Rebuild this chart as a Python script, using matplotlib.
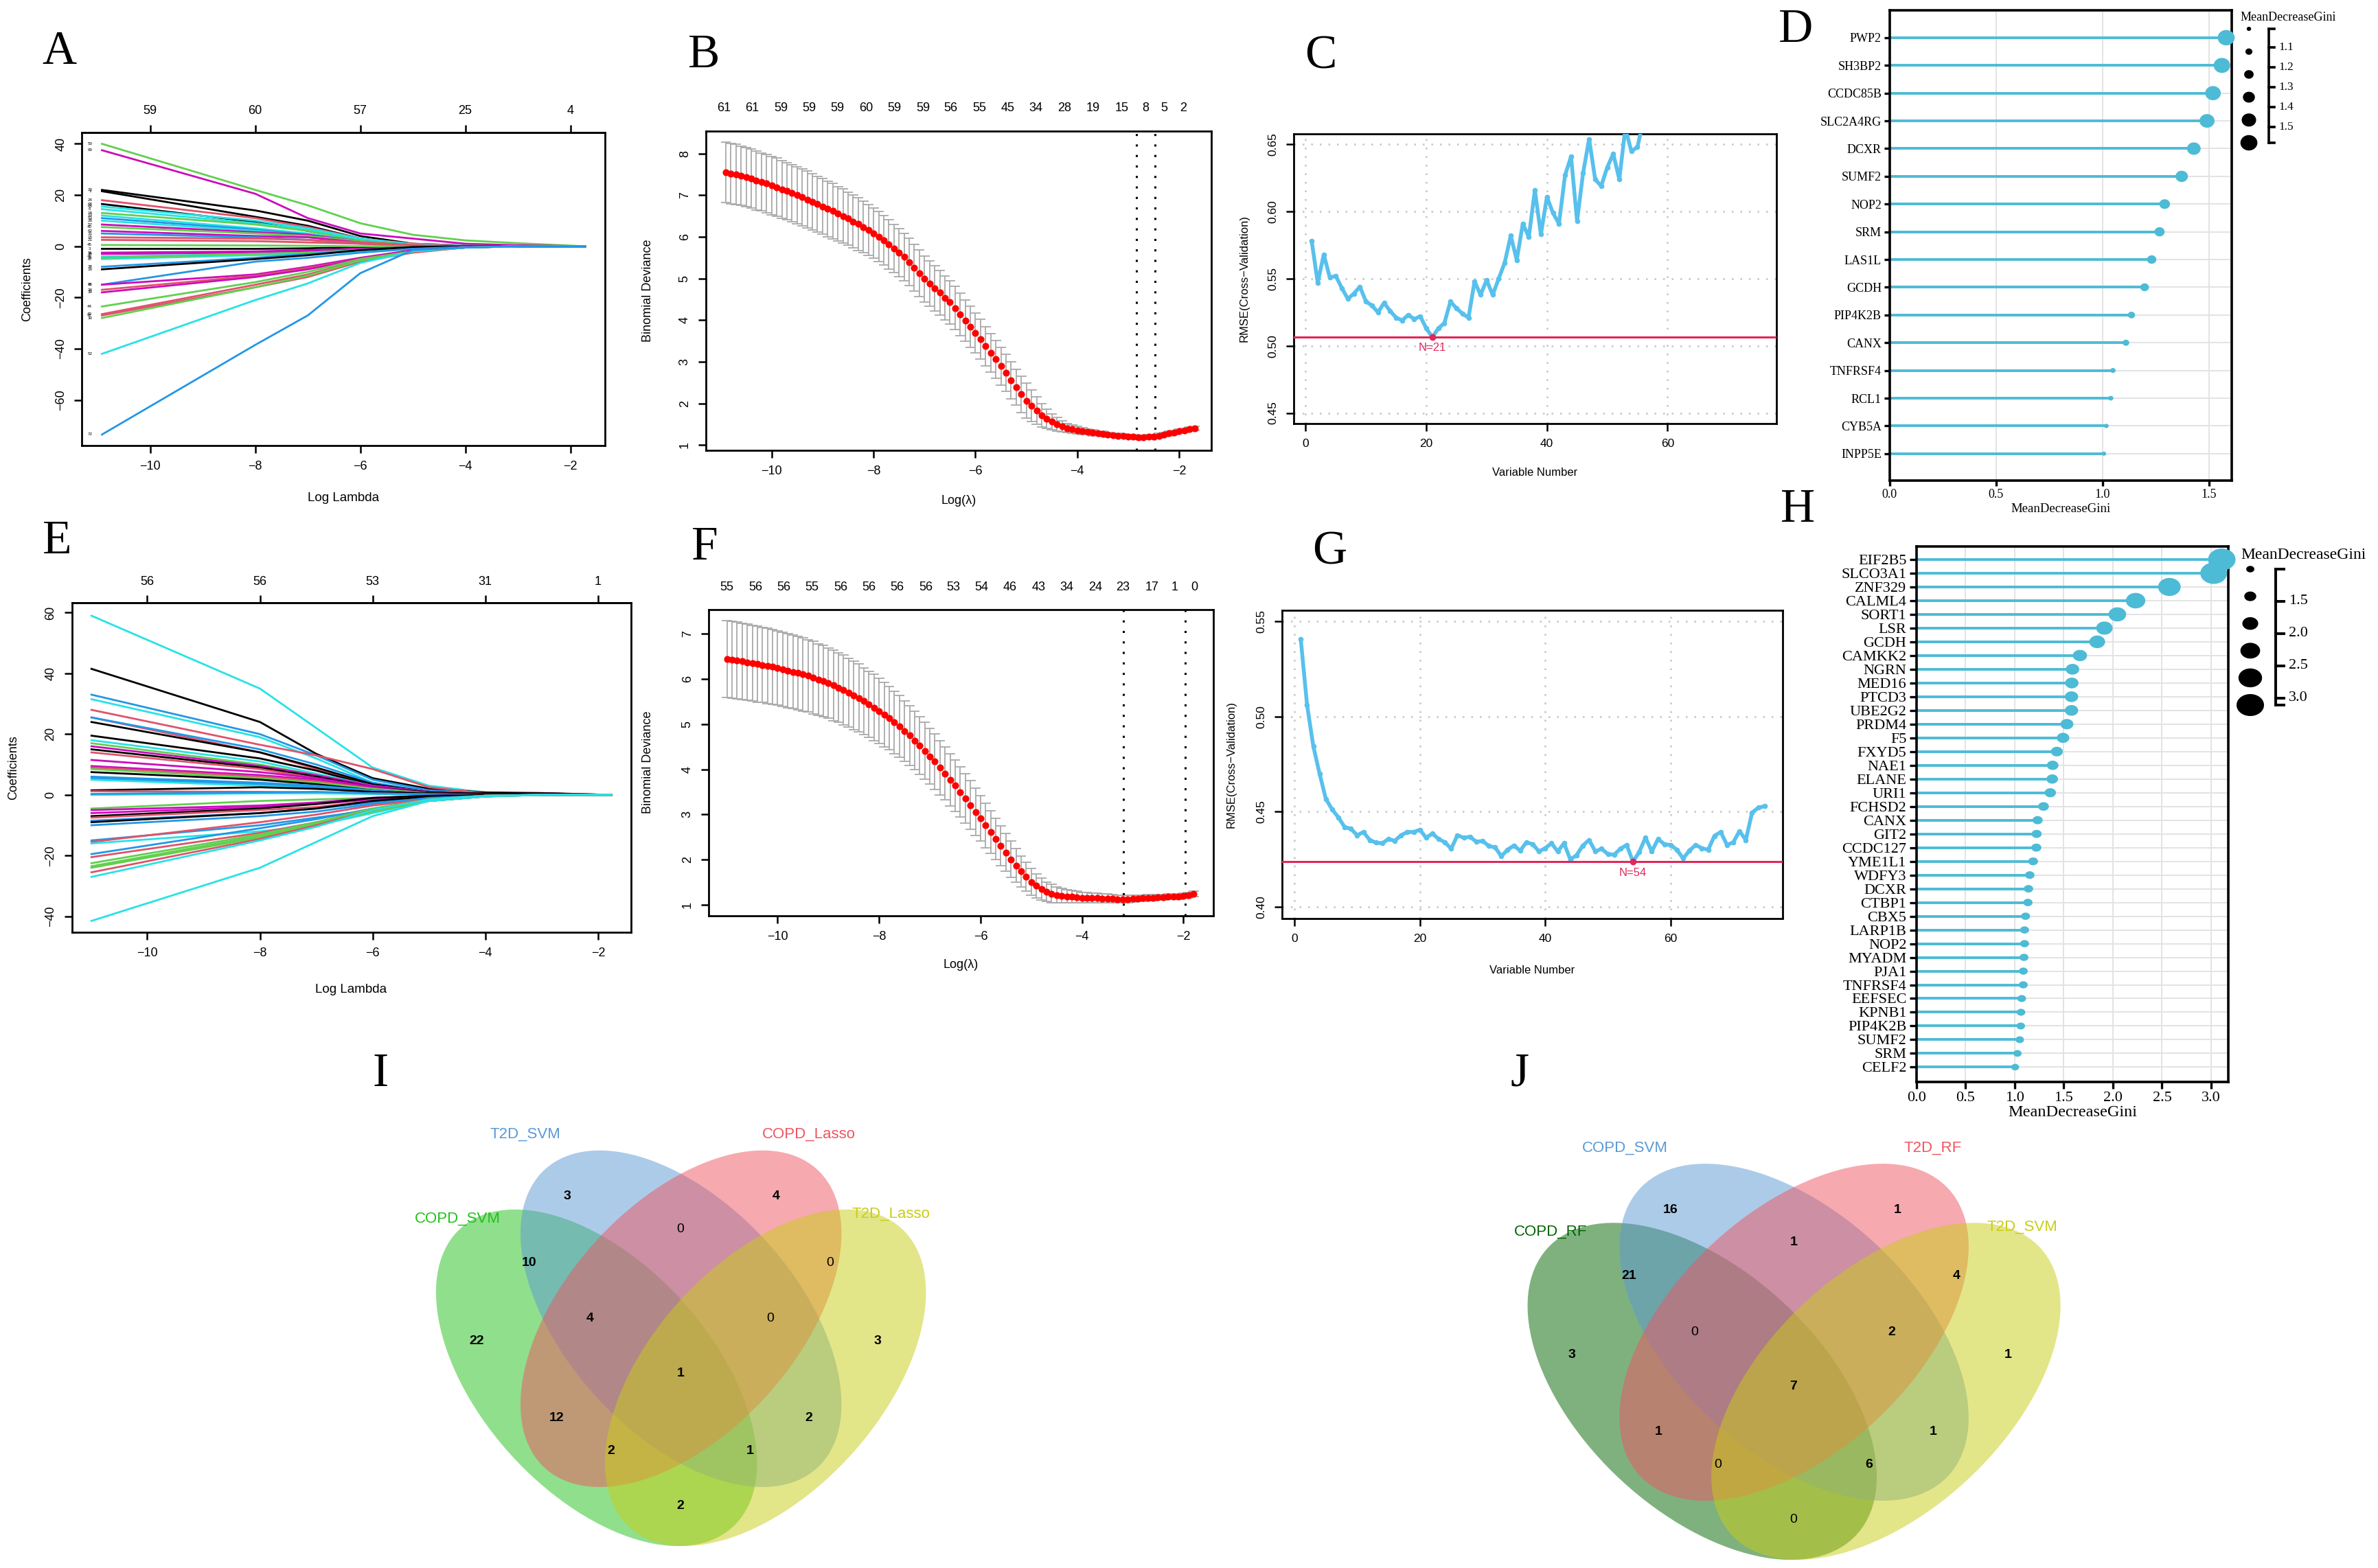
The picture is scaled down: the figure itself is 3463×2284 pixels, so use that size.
import numpy as np
import matplotlib
matplotlib.use("Agg")
import matplotlib.pyplot as plt
from matplotlib.patches import Ellipse
import matplotlib.transforms as mtrans

plt.rcParams['font.family'] = ['Liberation Sans', 'DejaVu Sans']
SERIF = ['Liberation Serif', 'DejaVu Serif']

# ============================ DATA ============================
# ---- Panel A : LASSO coefficient paths (COPD) ----
A_loglambda = [-10.92, -8, -7, -6, -5, -4, -3, -1.72]
A_coef = [
    [40, 22, 16, 9, 4.5, 2.3, 1.2, 0],
    [37.5, 20.5, 11, 5, 3, 1, 0.4, 0],
    [22, 14, 10, 4, 1, 0.3, 0, 0],
    [21.5, 11.5, 8, 3, 0.5, 0, 0, 0],
    [18, 11, 7.5, 3, 1, 0.3, 0, 0],
    [16.5, 9.5, 6, 2.5, 0.5, 0, 0, 0],
    [15.5, 10, 7, 3, 0.8, 0.2, 0, 0],
    [14.5, 9, 6.5, 2.5, 0.5, 0, 0, 0],
    [13, 8.5, 6, 2, 0.5, 0, 0, 0],
    [12, 7, 5, 2, 0.3, 0, 0, 0],
    [11, 6.5, 4.5, 1.5, 0.3, 0, 0, 0],
    [10, 6, 4, 1.5, 0.2, 0, 0, 0],
    [8.5, 5.5, 4.5, 2, 0.5, 0, 0, 0],
    [7.5, 5, 4, 2, 0.5, 0, 0, 0],
    [6, 4, 3.5, 1.5, 0.3, 0, 0, 0],
    [5, 3.5, 2.5, 1, 0.2, 0, 0, 0],
    [3.5, 3, 2.5, 1.5, 0.5, 0, 0, 0],
    [2.5, 2, 1.5, 1, 0.3, 0, 0, 0],
    [-1, -1, -0.8, -0.3, 0, 0, 0, 0],
    [0.5, 0.3, 0.2, 0, 0, 0, 0, 0],
    [-2.5, -2, -1.5, -1, -0.3, 0, 0, 0],
    [-3, -2.5, -2, -1.5, -0.5, 0, 0, 0],
    [-4, -3, -2.5, -1.5, -0.5, 0, 0, 0],
    [-5, -3.5, -3, -2, -0.8, -0.2, 0, 0],
    [-4.5, -3, -2.5, -1.5, -0.5, 0, 0, 0],
    [-8, -4.5, -3, -1.5, -0.5, 0, 0, 0],
    [-9, -5, -3.5, -1.5, -0.3, 0, 0, 0],
    [-15, -6, -4.5, -2.5, -1, -0.2, 0, 0],
    [-15, -11, -8, -4.5, -1.5, -0.3, 0, 0],
    [-17, -11.5, -8.5, -5, -2, -0.5, 0, 0],
    [-18, -12, -9, -5, -2, -0.5, 0, 0],
    [-23.5, -14, -10, -5, -2, -0.5, 0, 0],
    [-26.5, -15, -11, -5.5, -2, -0.5, 0, 0],
    [-27, -16, -12, -6, -2.5, -0.5, 0, 0],
    [-28, -16, -11.5, -5.5, -2, -0.5, 0, 0],
    [-42, -21, -14.5, -6.5, -2, -0.5, 0, 0],
    [-73.5, -38.5, -27, -10.5, -1.5, -0.5, 0, 0],
]
A_col = "gmkkrkccgcbcmgmbrrkgmmccgbkbmrmgrrgcb"
A_ids = ['50', '69', '23', '1', '24', '68', '65', '6', '18', '13', '53', '28', '57',
         '40', '62', '31', '15', '21', '3', '45', '11', '36', '48', '67', '9', '38',
         '16', '66', '8', '34', '39', '44', '42', '47', '30', '52', '72']
A_top_at = [-10, -8, -6, -4, -2]
A_top_lab = ['59', '60', '57', '25', '4']

# ---- Panel E : LASSO coefficient paths (T2D) ----
E_loglambda = [-10.99, -8, -7, -6, -5, -4, -3, -1.77]
E_coef = [
    [59, 35, 22, 9, 3, 0.8, 0.3, 0],
    [41.5, 24, 13.5, 5.5, 2, 0.8, 0.6, 0],
    [33, 20, 13, 5, 1.5, 0.5, 0, 0],
    [31.5, 19, 12, 4, 1, 0.3, 0, 0],
    [28, 16.5, 13, 8.5, 2.5, 0.5, 0, 0],
    [25.5, 14, 8.5, 3, 1, 0.2, 0, 0],
    [25.5, 15, 10, 4, 1, 0.2, 0, 0],
    [24, 14, 9, 3.5, 1, 0.3, 0, 0],
    [19.5, 12, 8, 3, 1, 0.3, 0, 0],
    [18, 11, 7, 3, 1, 0.2, 0, 0],
    [17, 10, 6.5, 2.5, 0.8, 0.2, 0, 0],
    [16, 9.5, 6.5, 3, 1, 0.3, 0.5, 0],
    [15, 9, 6, 2.5, 0.8, 0.2, 0, 0],
    [14, 8.5, 5.5, 2, 0.5, 0, 0, 0],
    [11.5, 7.5, 5.5, 2.5, 0.5, 0, 0, 0],
    [9.5, 6.5, 5, 2, 0.5, 0, 0, 0],
    [9, 6, 4.5, 2, 0.5, 0, 0, 0],
    [8.5, 5.5, 4, 2, 0.5, 0, 0, 0],
    [7.5, 5, 3.5, 1.5, 0.3, 0, 0, 0],
    [6, 4, 3, 1.5, 0.3, 0, 0, 0],
    [5.5, 3.5, 2.5, 1, 0.2, 0, 0, 0],
    [5, 3, 2, 1, 0.2, 0, 0, 0],
    [1.5, 2.5, 2, 1, 0.5, 0.5, 0.5, 0],
    [1.2, 1, 0.8, 0.5, 0.2, 0, 0, 0],
    [0, 0.5, 0.5, 0.3, 0, 0, 0, 0],
    [0.3, 0.8, 1, 0.5, 0.2, 0, 0, 0],
    [-4.5, -2, -1.5, -1, -0.5, 0, 0, 0],
    [-5, -3.5, -2.5, -1, -0.3, 0, 0, 0],
    [-6, -4, -3, -1.5, -0.5, 0, 0, 0],
    [-7, -4.5, -3, -1, -0.3, 0, 0, 0],
    [-7.5, -5, -4, -2, -0.5, 0, 0, 0],
    [-8.5, -6, -4.5, -2.5, -1, -0.3, 0, 0],
    [-9, -6, -4.5, -2, -0.5, 0, 0, 0],
    [-10, -7, -5.5, -3, -1, -0.3, 0, 0],
    [-15, -10, -7.5, -5, -2, -0.5, 0, 0],
    [-15.5, -9, -6.5, -3.5, -1.5, -0.3, 0, 0],
    [-16, -12, -10, -6, -2, -0.5, 0, 0],
    [-19.5, -11, -8, -4.5, -2, -0.5, 0, 0],
    [-20.5, -12.5, -9, -5, -2, -0.5, 0, 0],
    [-22.5, -13, -9, -4.5, -1.5, -0.3, 0, 0],
    [-23.5, -13.5, -9.5, -5, -1.5, -0.3, 0, 0],
    [-24, -14, -10, -5.5, -2, -0.5, 0, 0],
    [-25.5, -14.5, -10, -5, -1.5, -0.3, 0, 0],
    [-27, -15, -10.5, -5, -1.5, -0.3, 0, 0],
    [-41.5, -24, -15.5, -7, -2, -0.5, 0, 0],
]
E_col = "ckbcrrbkkcgmkrmmrgkbbckrcbgmmkrbkbbrcbrgggrcc"
E_top_at = [-10, -8, -6, -4, -2]
E_top_lab = ['56', '56', '53', '31', '1']

# ---- Panel B : cv.glmnet binomial deviance (COPD) ----
B_loglambda = np.round(np.arange(-10.9, -1.65, 0.1), 2)
B_dev = [7.55, 7.52, 7.50, 7.47, 7.43, 7.40, 7.36, 7.32, 7.28, 7.23,
         7.19, 7.14, 7.10, 7.05, 7.00, 6.95, 6.90, 6.84, 6.79, 6.73,
         6.67, 6.62, 6.56, 6.50, 6.44, 6.37, 6.31, 6.24, 6.17, 6.09,
         6.01, 5.92, 5.82, 5.72, 5.62, 5.52, 5.40, 5.26, 5.13, 4.99,
         4.88, 4.77, 4.66, 4.54, 4.43, 4.29, 4.14, 3.99, 3.84, 3.69,
         3.54, 3.38, 3.22, 3.06, 2.90, 2.74, 2.56, 2.39, 2.22, 2.07,
         1.94, 1.83, 1.72, 1.63, 1.56, 1.50, 1.45, 1.41, 1.38, 1.36,
         1.34, 1.32, 1.30, 1.28, 1.27, 1.25, 1.24, 1.23, 1.22, 1.21,
         1.20, 1.19, 1.19, 1.20, 1.21, 1.23, 1.25, 1.28, 1.30, 1.33,
         1.36, 1.38, 1.40]
B_se = [0.72, 0.72, 0.72, 0.71, 0.71, 0.71, 0.71, 0.70, 0.70, 0.70,
        0.70, 0.69, 0.69, 0.69, 0.68, 0.68, 0.68, 0.67, 0.67, 0.67,
        0.66, 0.66, 0.65, 0.65, 0.64, 0.63, 0.63, 0.62, 0.61, 0.60,
        0.60, 0.59, 0.59, 0.58, 0.58, 0.57, 0.57, 0.56, 0.56, 0.55,
        0.55, 0.54, 0.54, 0.53, 0.52, 0.52, 0.51, 0.50, 0.49, 0.48,
        0.48, 0.47, 0.46, 0.46, 0.45, 0.44, 0.44, 0.43, 0.43, 0.42,
        0.38, 0.33, 0.28, 0.23, 0.19, 0.16, 0.13, 0.11, 0.10, 0.09,
        0.08, 0.07, 0.07, 0.06, 0.06, 0.06, 0.05, 0.05, 0.05, 0.05,
        0.05, 0.05, 0.05, 0.05, 0.05, 0.05, 0.05, 0.05, 0.05, 0.05,
        0.05, 0.05, 0.05]
B_lmin, B_l1se = -2.84, -2.47
B_top_at = [-10.94, -10.38, -9.82, -9.26, -8.71, -8.15, -7.59, -7.03, -6.48,
            -5.92, -5.36, -4.81, -4.25, -3.69, -3.13, -2.66, -2.29, -1.92]
B_top_lab = ['61', '61', '59', '59', '59', '60', '59', '59', '56', '55', '45',
             '34', '28', '19', '15', '8', '5', '2']

# ---- Panel F : cv.glmnet binomial deviance (T2D) ----
F_loglambda = np.round(np.arange(-11.0, -1.75, 0.1), 2)
F_dev = [6.44, 6.43, 6.41, 6.39, 6.37, 6.35, 6.33, 6.31, 6.29, 6.27,
         6.25, 6.22, 6.19, 6.16, 6.13, 6.10, 6.07, 6.03, 5.99, 5.95,
         5.91, 5.86, 5.81, 5.76, 5.70, 5.64, 5.58, 5.51, 5.44, 5.37,
         5.29, 5.21, 5.13, 5.04, 4.95, 4.85, 4.75, 4.64, 4.53, 4.41,
         4.29, 4.17, 4.04, 3.91, 3.77, 3.64, 3.50, 3.36, 3.21, 3.06,
         2.91, 2.76, 2.61, 2.46, 2.31, 2.16, 2.01, 1.87, 1.74, 1.62,
         1.51, 1.42, 1.35, 1.29, 1.25, 1.22, 1.20, 1.19, 1.18, 1.17,
         1.16, 1.16, 1.15, 1.15, 1.14, 1.14, 1.14, 1.13, 1.13, 1.13,
         1.14, 1.14, 1.15, 1.16, 1.16, 1.17, 1.17, 1.18, 1.19, 1.19,
         1.20, 1.22, 1.25]
F_se = [0.85, 0.85, 0.85, 0.84, 0.84, 0.84, 0.84, 0.83, 0.83, 0.83,
        0.82, 0.82, 0.82, 0.81, 0.81, 0.81, 0.80, 0.80, 0.79, 0.79,
        0.78, 0.78, 0.77, 0.77, 0.76, 0.76, 0.75, 0.74, 0.73, 0.73,
        0.72, 0.71, 0.70, 0.69, 0.68, 0.67, 0.66, 0.65, 0.64, 0.63,
        0.62, 0.61, 0.60, 0.59, 0.58, 0.57, 0.56, 0.55, 0.54, 0.52,
        0.50, 0.49, 0.47, 0.46, 0.44, 0.42, 0.40, 0.37, 0.34, 0.32,
        0.30, 0.27, 0.24, 0.22, 0.20, 0.18, 0.16, 0.15, 0.14, 0.13,
        0.12, 0.12, 0.11, 0.11, 0.10, 0.10, 0.09, 0.09, 0.08, 0.08,
        0.08, 0.07, 0.07, 0.07, 0.07, 0.06, 0.06, 0.06, 0.06, 0.06,
        0.06, 0.06, 0.06]
F_lmin, F_l1se = -3.18, -1.97
F_top_at = [-11.0, -10.44, -9.88, -9.32, -8.76, -8.20, -7.64, -7.08, -6.53,
            -5.98, -5.42, -4.86, -4.30, -3.74, -3.19, -2.62, -2.17, -1.79]
F_top_lab = ['55', '56', '56', '55', '56', '56', '56', '56', '53', '54', '46',
             '43', '34', '24', '23', '17', '1', '0']

# ---- Panel C : SVM-RFE RMSE (COPD) ----
C_rmse = [0.578, 0.547, 0.568, 0.551, 0.552, 0.543, 0.535, 0.539, 0.544, 0.533,
          0.530, 0.525, 0.532, 0.526, 0.521, 0.519, 0.523, 0.520, 0.522, 0.513,
          0.5065, 0.513, 0.517, 0.533, 0.528, 0.524, 0.521, 0.548, 0.538, 0.549,
          0.538, 0.550, 0.562, 0.582, 0.564, 0.591, 0.581, 0.616, 0.583, 0.611,
          0.599, 0.591, 0.627, 0.641, 0.593, 0.629, 0.654, 0.624, 0.619, 0.633,
          0.643, 0.624, 0.662, 0.645, 0.648, 0.668, 0.680]
C_best = 21

# ---- Panel G : SVM-RFE RMSE (T2D) ----
G_rmse = [0.5406, 0.5062, 0.4844, 0.4700, 0.4567, 0.4512, 0.4470, 0.4419, 0.4410, 0.4376,
          0.4393, 0.4351, 0.4337, 0.4334, 0.4356, 0.4347, 0.4376, 0.4393, 0.4393, 0.4405,
          0.4363, 0.4385, 0.4356, 0.4339, 0.4305, 0.4376, 0.4363, 0.4368, 0.4342, 0.4346,
          0.4320, 0.4312, 0.4266, 0.4300, 0.4322, 0.4295, 0.4339, 0.4329, 0.4291, 0.4308,
          0.4334, 0.4291, 0.4334, 0.4249, 0.4271, 0.4322, 0.4351, 0.4291, 0.4305, 0.4277,
          0.4274, 0.4305, 0.4325, 0.4237, 0.4288, 0.4364, 0.4291, 0.4356, 0.4329, 0.4325,
          0.4300, 0.4254, 0.4295, 0.4325, 0.4308, 0.4300, 0.4373, 0.4393, 0.4325, 0.4339,
          0.4398, 0.4351, 0.4495, 0.4521, 0.4529]
G_best = 54

# ---- Panel D : random forest MeanDecreaseGini (COPD) ----
D_genes = ['PWP2', 'SH3BP2', 'CCDC85B', 'SLC2A4RG', 'DCXR', 'SUMF2', 'NOP2', 'SRM',
           'LAS1L', 'GCDH', 'PIP4K2B', 'CANX', 'TNFRSF4', 'RCL1', 'CYB5A', 'INPP5E']
D_gini = [1.581, 1.561, 1.519, 1.491, 1.429, 1.372, 1.292, 1.268,
          1.231, 1.198, 1.136, 1.110, 1.049, 1.039, 1.018, 1.007]
D_ticks = [0.0, 0.5, 1.0, 1.5]
D_leg_ticks = [1.1, 1.2, 1.3, 1.4, 1.5]

# ---- Panel H : random forest MeanDecreaseGini (T2D) ----
H_genes = ['EIF2B5', 'SLCO3A1', 'ZNF329', 'CALML4', 'SORT1', 'LSR', 'GCDH', 'CAMKK2',
           'NGRN', 'MED16', 'PTCD3', 'UBE2G2', 'PRDM4', 'F5', 'FXYD5', 'NAE1', 'ELANE',
           'URI1', 'FCHSD2', 'CANX', 'GIT2', 'CCDC127', 'YME1L1', 'WDFY3', 'DCXR',
           'CTBP1', 'CBX5', 'LARP1B', 'NOP2', 'MYADM', 'PJA1', 'TNFRSF4', 'EEFSEC',
           'KPNB1', 'PIP4K2B', 'SUMF2', 'SRM', 'CELF2']
H_gini = [3.109, 3.026, 2.575, 2.231, 2.045, 1.913, 1.840, 1.664, 1.588, 1.581,
          1.578, 1.578, 1.531, 1.492, 1.429, 1.386, 1.382, 1.362, 1.293, 1.233,
          1.223, 1.220, 1.187, 1.153, 1.140, 1.134, 1.110, 1.100, 1.100, 1.094,
          1.087, 1.087, 1.071, 1.064, 1.061, 1.051, 1.028, 1.004]
H_ticks = [0.0, 0.5, 1.0, 1.5, 2.0, 2.5, 3.0]
H_leg_ticks = [1.5, 2.0, 2.5, 3.0]

# ---- Panels I, J : 4-set Venn diagrams ----
I_sets = ['COPD_SVM', 'T2D_SVM', 'COPD_Lasso', 'T2D_Lasso']
I_counts = {'1000': 22, '0100': 3, '0010': 4, '0001': 3, '1100': 10, '1010': 12,
            '1001': 2, '0110': 0, '0101': 2, '0011': 0, '1110': 4, '1101': 1,
            '1011': 2, '0111': 0, '1111': 1}
J_sets = ['COPD_RF', 'COPD_SVM', 'T2D_RF', 'T2D_SVM']
J_counts = {'1000': 3, '0100': 16, '0010': 1, '0001': 1, '1100': 21, '1010': 1,
            '1001': 0, '0110': 1, '0101': 1, '0011': 4, '1110': 0, '1101': 6,
            '1011': 0, '0111': 2, '1111': 7}

# ============================ STYLE / LAYOUT ============================
PAL = {'k': 'black', 'r': '#DF536B', 'g': '#61D04F', 'b': '#2297E6',
       'c': '#28E2E5', 'm': '#CD0BBC'}
LOLLI = '#4DBBD5'
RFE_LINE = '#58C0EC'
RFE_RED = '#E0285A'

W, H = 3463, 2284
fig = plt.figure(figsize=(W / 100, H / 100), dpi=100)

ov = fig.add_axes([0, 0, 1, 1], zorder=10)
ov.set_xlim(0, W)
ov.set_ylim(H, 0)
ov.axis('off')


def ax_px(x0, x1, y0, y1, **kw):
    return fig.add_axes([x0 / W, 1 - y1 / H, (x1 - x0) / W, (y1 - y0) / H], **kw)


def r_axes(ax, xt, yt, xl, yl, fs=13):
    ax.set_xlim(*xl)
    ax.set_ylim(*yl)
    ax.set_xticks(xt)
    ax.set_yticks(yt)
    for sp in ax.spines.values():
        sp.set_linewidth(2.0)
    ax.tick_params(direction='out', length=8, width=1.8, labelsize=fs, pad=8)
    ax.tick_params(axis='y', labelrotation=90)
    for t in ax.get_yticklabels():
        t.set_verticalalignment('center')


def letter(x, y, s):
    ov.text(x, y, s, fontfamily=SERIF, fontsize=50, ha='center', va='baseline')


# ---------------- Panel A ----------------
axA = ax_px(119.4, 881, 192.7, 649)
for vals, c in zip(A_coef, A_col):
    axA.plot(A_loglambda, vals, color=PAL[c], lw=2.0)
for vals, lab in zip(A_coef, A_ids):
    axA.text(-11.15, vals[0], lab, fontsize=4.5, ha='center', va='center')
r_axes(axA, [-10, -8, -6, -4, -2], [-60, -40, -20, 0, 20, 40], (-11.30, -1.34), (-77.8, 44.5))
secA = axA.secondary_xaxis('top')
secA.set_xticks(A_top_at, labels=A_top_lab)
secA.tick_params(direction='out', length=8, width=1.8, labelsize=13, pad=8)
secA.spines['top'].set_linewidth(2.0)
ov.text(40, 421, 'Coefficients', rotation=90, ha='center', va='center', fontsize=13)
ov.text(500, 725, 'Log Lambda', ha='center', va='center', fontsize=13.5)

# ---------------- Panel E ----------------
axE = ax_px(104.5, 918.5, 878.3, 1358.2)
for vals, c in zip(E_coef, E_col):
    axE.plot(E_loglambda, vals, color=PAL[c], lw=2.0)
r_axes(axE, [-10, -8, -6, -4, -2], [-40, -20, 0, 20, 40, 60], (-11.34, -1.42), (-45.3, 63.2))
secE = axE.secondary_xaxis('top')
secE.set_xticks(E_top_at, labels=E_top_lab)
secE.tick_params(direction='out', length=8, width=1.8, labelsize=13, pad=8)
secE.spines['top'].set_linewidth(2.0)
ov.text(20, 1118, 'Coefficients', rotation=90, ha='center', va='center', fontsize=13)
ov.text(511.5, 1441, 'Log Lambda', ha='center', va='center', fontsize=13.5)


# ---------------- Panels B / F ----------------
def cv_panel(box, x, dev, se, lmin, l1se, top_at, top_lab, top_y, xl, yl, yt):
    ax = ax_px(*box)
    x = np.asarray(x)
    dev = np.asarray(dev)
    se = np.asarray(se)
    up, lo = dev + se, dev - se
    bw = 0.1
    ax.vlines(x, lo, up, color='#A9A9A9', lw=1.3, zorder=1)
    ax.hlines(up, x - bw, x + bw, color='#A9A9A9', lw=1.3, zorder=1)
    ax.hlines(lo, x - bw, x + bw, color='#A9A9A9', lw=1.3, zorder=1)
    ax.plot(x, dev, 'o', color='red', ms=6.3, mec='red', zorder=3)
    for v in (lmin, l1se):
        ax.axvline(v, color='black', lw=2.2, ls=(0, (1, 4)), zorder=2)
    r_axes(ax, [-10, -8, -6, -4, -2], yt, xl, yl)
    tr = mtrans.blended_transform_factory(ax.transData, ov.transData)
    for a, lab in zip(top_at, top_lab):
        ax.text(a, top_y, lab, transform=tr, ha='center', va='center', fontsize=13,
                clip_on=False)
    return ax


axB = cv_panel((1028, 1764, 191, 656), B_loglambda, B_dev, B_se, B_lmin, B_l1se,
               B_top_at, B_top_lab, 158, (-11.29, -1.37), (0.876, 8.54), range(1, 9))
ov.text(943, 423.5, 'Binomial Deviance', rotation=90, ha='center', va='center', fontsize=13)
ov.text(1396, 729, 'Log(λ)', ha='center', va='center', fontsize=13)

axF = cv_panel((1032, 1767, 887.7, 1333.7), F_loglambda, F_dev, F_se, F_lmin, F_l1se,
               F_top_at, F_top_lab, 855.6, (-11.36, -1.41), (0.763, 7.54), range(1, 8))
ov.text(943, 1110.7, 'Binomial Deviance', rotation=90, ha='center', va='center', fontsize=13)
ov.text(1399.5, 1405.4, 'Log(λ)', ha='center', va='center', fontsize=13)


# ---------------- Panels C / G ----------------
def rfe_panel(box, rmse, best, xl, yl, yt, lab_off):
    ax = ax_px(*box)
    n = np.arange(1, len(rmse) + 1)
    r_axes(ax, [0, 20, 40, 60], yt, xl, yl, fs=12.5)
    ax.set_yticklabels([f'{v:.2f}' for v in yt])
    for t in ax.get_yticklabels():
        t.set_verticalalignment('center')
    for v in [0, 20, 40, 60]:
        ax.axvline(v, color='#C4C4C4', lw=1.8, ls=(0, (1, 4)), zorder=0)
    for v in yt:
        ax.axhline(v, color='#C4C4C4', lw=1.8, ls=(0, (1, 4)), zorder=0)
    ax.plot(n, rmse, color=RFE_LINE, lw=4.0, marker='o', ms=4.5,
            solid_joinstyle='round', solid_capstyle='round', zorder=3)
    best_v = rmse[best - 1]
    ax.axhline(best_v, color=RFE_RED, lw=2.2, zorder=4)
    ax.plot([best], [best_v], 'o', color=RFE_RED, ms=6, zorder=5)
    ax.annotate(f'N={best}', (best, best_v), xytext=(0, lab_off), textcoords='offset points',
                ha='center', va='center', color=RFE_RED, fontsize=12)
    return ax


axC = rfe_panel((1884, 2586.5, 194.6, 617), C_rmse, C_best, (-1.98, 78.0), (0.4421, 0.6581),
                [0.45, 0.50, 0.55, 0.60, 0.65], -11)
ov.text(1812.5, 406, 'RMSE(Cross−Validation)', rotation=90, ha='center', va='center', fontsize=12)
ov.text(2235, 688.7, 'Variable Number', ha='center', va='center', fontsize=12)

axG = rfe_panel((1866.7, 2596.2, 889.1, 1337.5), G_rmse, G_best, (-2.02, 77.9), (0.394, 0.5558),
                [0.40, 0.45, 0.50, 0.55], -11.5)
ov.text(1793.5, 1113, 'RMSE(Cross−Validation)', rotation=90, ha='center', va='center', fontsize=12)
ov.text(2231, 1414, 'Variable Number', ha='center', va='center', fontsize=12)


# ---------------- Panels D / H ----------------
def ell_marker(ratio):
    t = np.linspace(0, 2 * np.pi, 72)
    return np.column_stack([ratio * np.cos(t), np.sin(t)])


def lollipop(box, genes, vals, xmax, xt, pad_top, pad_bot, fs_gene, fs_tick,
             dmin, dmax, ratio, tlen, xlabel_xy, fs_xlab):
    ax = ax_px(*box)
    n = len(genes)
    ypos = np.arange(n, 0, -1)
    v = np.asarray(vals)
    ax.set_axisbelow(True)
    ax.set_xticks(xt, labels=[f'{t:.1f}' for t in xt])
    ax.set_yticks(ypos, labels=genes)
    ax.grid(True, color='#E3E3E3', lw=1.4)
    ax.hlines(ypos, 0, v, color=LOLLI, lw=2.8, zorder=2)
    d = dmin + (v - v.min()) / (v.max() - v.min()) * (dmax - dmin)
    ax.scatter(v, ypos, s=(d * 0.72) ** 2, marker=ell_marker(ratio), color=LOLLI,
               lw=0, zorder=3, clip_on=False)
    ax.set_xlim(0, xmax)
    ax.set_ylim(1 - pad_bot, n + pad_top)
    for sp in ax.spines.values():
        sp.set_linewidth(2.6)
    ax.tick_params(direction='out', length=tlen, width=2.4, pad=3, colors='black')
    for t in ax.get_yticklabels():
        t.set_fontfamily(SERIF)
        t.set_fontsize(fs_gene)
    for t in ax.get_xticklabels():
        t.set_fontfamily(SERIF)
        t.set_fontsize(fs_tick)
    ov.text(xlabel_xy[0], xlabel_xy[1], 'MeanDecreaseGini', fontfamily=SERIF,
            fontsize=fs_xlab, ha='center', va='center')
    return ax


def size_legend(vals, title_xy, dot_x, bar_x, top_y, bot_y, ticks, lab_x, fs_title,
                fs_lab, dmin, dmax, ratio, cap, lw):
    v = np.asarray(vals)
    vmin, vmax = v.min(), v.max()
    lv = np.linspace(vmin, vmax, 6)
    ly = np.linspace(top_y, bot_y, 6)
    d = dmin + (lv - vmin) / (vmax - vmin) * (dmax - dmin)
    ov.scatter(np.full(6, dot_x), ly, s=(d * 0.72) ** 2, marker=ell_marker(ratio),
               color='black', lw=0)
    ov.text(title_xy[0], title_xy[1], 'MeanDecreaseGini', fontfamily=SERIF,
            fontsize=fs_title, ha='left', va='center')
    ov.plot([bar_x, bar_x], [top_y, bot_y], color='black', lw=lw, solid_capstyle='projecting')
    for yy in (top_y, bot_y):
        ov.plot([bar_x, bar_x + cap], [yy, yy], color='black', lw=lw, solid_capstyle='projecting')
    for t in ticks:
        yy = top_y + (t - vmin) / (vmax - vmin) * (bot_y - top_y)
        ov.plot([bar_x, bar_x + cap], [yy, yy], color='black', lw=lw)
        ov.text(lab_x, yy, f'{t:.1f}', fontfamily=SERIF, fontsize=fs_lab,
                ha='left', va='center')


axD = lollipop((2751.7, 3250, 14.5, 700), D_genes, D_gini, 1.607, D_ticks, 1.0, 0.97,
               13, 13, 6.5, 24.7, 1.1, 5.5, (3001, 741.6), 13.5)
size_legend(D_gini, (3263, 25), 3275, 3304, 42, 208, D_leg_ticks, 3318, 13, 12.5,
            6.5, 24.7, 1.1, 8, 2.6)

axH = lollipop((2791, 3245, 795.8, 1575.8), H_genes, H_gini, 3.175, H_ticks, 0.96, 1.07,
               16, 16, 11.8, 40.0, 1.25, 7.5, (3018, 1621), 17.5)
size_legend(H_gini, (3263, 809), 3277, 3314, 829, 1027, H_leg_ticks, 3333, 17, 16,
            11.8, 40.0, 1.25, 12, 2.8)

# ---------------- Panels I / J : Venn ----------------
VENN_ELL = [(0.35, 0.47, 135), (0.50, 0.57, 135), (0.50, 0.57, 45), (0.65, 0.47, 45)]
VENN_POS = {'1000': (0.137, 0.532), '0100': (0.298, 0.777), '0010': (0.669, 0.777),
            '0001': (0.849, 0.532), '1100': (0.230, 0.665), '1010': (0.279, 0.402),
            '1001': (0.499, 0.253), '0110': (0.499, 0.722), '0101': (0.727, 0.402),
            '0011': (0.765, 0.665), '1110': (0.338, 0.570), '1101': (0.622, 0.346),
            '1011': (0.376, 0.346), '0111': (0.659, 0.570), '1111': (0.499, 0.478)}
VENN_LAB = [(0.103, 0.740), (0.224, 0.882), (0.727, 0.882), (0.873, 0.748)]


def venn(box, ylim, names, colors, counts):
    ax = ax_px(*box)
    ax.set_xlim(0, 1)
    ax.set_ylim(*ylim)
    ax.axis('off')
    for (cx, cy, ang), col in zip(VENN_ELL, colors):
        ax.add_patch(Ellipse((cx, cy), 0.70, 0.40, angle=ang, facecolor=col,
                             alpha=0.5, lw=0))
    for key, cnt in counts.items():
        px, py = VENN_POS[key]
        ax.text(px, py, str(cnt), ha='center', va='center', fontsize=14,
                fontweight='bold' if cnt else 'normal')
    for (lx, ly), nm, col in zip(VENN_LAB, names, colors):
        ax.text(lx, ly, nm, ha='center', va='center', fontsize=16, color=col)
    return ax


venn((581.7, 1401.7, 1551.1, 2284), (0.1478, 1.0), I_sets,
     ['#22C11A', '#5B99D5', '#EF5561', '#C9CD15'], I_counts)
venn((2166.6, 3058.6, 1570.3, 2284), (0.1711, 1.0), J_sets,
     ['#006400', '#5B99D5', '#EF5561', '#C9CD15'], J_counts)

# ---------------- panel letters ----------------
for lx, ly, s in [(86, 93, 'A'), (1025, 98, 'B'), (1923.5, 99, 'C'), (2615, 61, 'D'),
                  (83, 806, 'E'), (1026, 815, 'F'), (1936, 822, 'G'), (2618, 760, 'H'),
                  (554.5, 1582, 'I'), (2213, 1581, 'J')]:
    letter(lx, ly, s)

fig.savefig('out.png', dpi=100)
